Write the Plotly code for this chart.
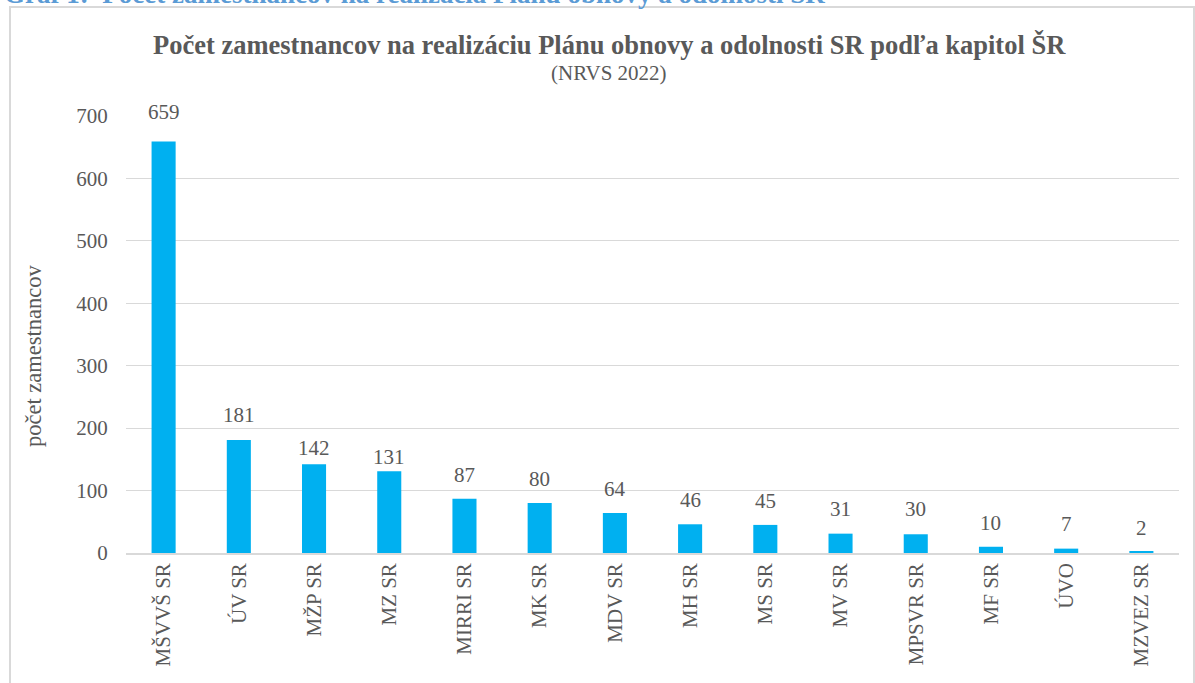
import plotly.graph_objects as go

categories = ["MŠVVŠ SR", "ÚV SR", "MŽP SR", "MZ SR", "MIRRI SR", "MK SR", "MDV SR",
              "MH SR", "MS SR", "MV SR", "MPSVR SR", "MF SR", "ÚVO", "MZVEZ SR"]
values = [659, 181, 142, 131, 87, 80, 64, 46, 45, 31, 30, 10, 7, 2]
y_ticks = [0, 100, 200, 300, 400, 500, 600, 700]
# label gap above bar (px), as in the reference styling
label_gap = [22, 17, 8, 6, 16, 16, 16, 16, 16, 17, 17, 16, 17, 16]

W, H = 1195, 683
L, R, T, B = 126, 16, 116, 130
pw, ph = W - L - R, H - T - B

def px(x):
    return (x - L) / pw

def py(y):
    return 1 - (y - T) / ph

font = "Liberation Serif"
gray = "#595959"

fig = go.Figure(go.Bar(
    x=categories, y=values,
    marker=dict(color="#00B0F0", line=dict(width=0)),
    hoverinfo="x+y",
))

annotations = [
    dict(text="<b>Graf 1:  Počet zamestnancov na realizácia Plánu obnovy a odolnosti SR</b>",
         xref="paper", yref="paper", x=px(2), y=py(-6), xanchor="left", yanchor="middle",
         showarrow=False, font=dict(family=font, size=27, color="#5B9BD5")),
    dict(text="<b>Počet zamestnancov na realizáciu Plánu obnovy a odolnosti SR podľa kapitol ŠR</b>",
         xref="paper", yref="paper", x=px(609), y=py(45), xanchor="center", yanchor="middle",
         showarrow=False, font=dict(family=font, size=26.5, color=gray)),
    dict(text="(NRVS 2022)",
         xref="paper", yref="paper", x=px(609), y=py(73), xanchor="center", yanchor="middle",
         showarrow=False, font=dict(family=font, size=21, color=gray)),
    dict(text="počet zamestnancov", textangle=-90,
         xref="paper", yref="paper", x=px(33), y=py(356), xanchor="center", yanchor="middle",
         showarrow=False, font=dict(family=font, size=22.5, color=gray)),
]
for c, v, g in zip(categories, values, label_gap):
    annotations.append(dict(text=str(v), x=c, y=v, xref="x", yref="y",
                            xanchor="center", yanchor="bottom", yshift=g - 6,
                            showarrow=False, font=dict(family=font, size=21, color=gray)))

fig.update_layout(
    width=W, height=H,
    margin=dict(l=L, r=R, t=T, b=B),
    paper_bgcolor="white", plot_bgcolor="white",
    bargap=0.68,
    showlegend=False,
    font=dict(family=font, color=gray),
    xaxis=dict(tickangle=-90, tickfont=dict(family=font, size=21, color=gray), showgrid=False,
               showline=True, linecolor="#D9D9D9", linewidth=1.5, ticks="", ticklen=0),
    yaxis=dict(range=[0, 700], tickvals=y_ticks, tickfont=dict(family=font, size=21, color=gray),
               showgrid=True, gridcolor="#D9D9D9", gridwidth=1.3, zeroline=False,
               ticks="outside", ticklen=13, tickcolor="rgba(0,0,0,0)"),
    shapes=[dict(type="rect", xref="paper", yref="paper",
                 x0=px(10), x1=px(1194), y0=py(720), y1=py(7),
                 line=dict(color="#D9D9D9", width=2), fillcolor="rgba(0,0,0,0)", layer="below")],
    annotations=annotations,
)

fig.write_html("out.html", config={"displayModeBar": False},
               post_script="document.body.style.margin='0px';")
